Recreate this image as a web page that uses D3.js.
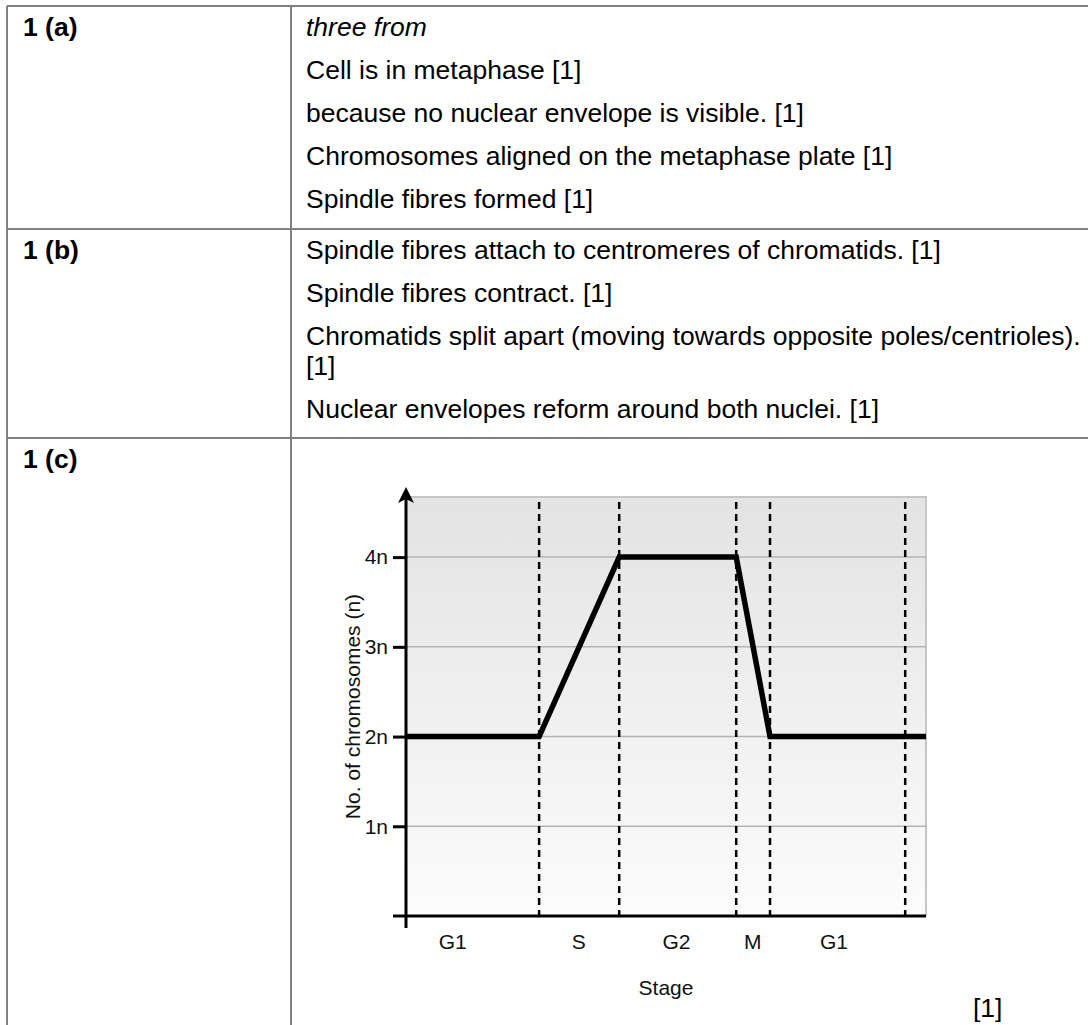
<!DOCTYPE html>
<html>
<head>
<meta charset="utf-8">
<script src="https://d3js.org/d3.v7.min.js"></script>
<style>
body { margin: 0; background: #fff; font-family: "Liberation Sans", Arial, sans-serif; }
.cell { font-size: 26.5px; fill: #000; }
.lab { font-size: 26.5px; font-weight: bold; fill: #000; }
.tick text { font-size: 21px; font-family: "Liberation Sans", Arial, sans-serif; }
.chart-text { font-size: 21px; fill: #111; }
</style>
</head>
<body>
<div id="page"></div>
<script>
// table content
var rowLabels = ["1 (a)", "1 (b)", "1 (c)"];
var rowA = ["three from", "Cell is in metaphase [1]", "because no nuclear envelope is visible. [1]",
  "Chromosomes aligned on the metaphase plate [1]", "Spindle fibres formed [1]"];
var rowB = ["Spindle fibres attach to centromeres of chromatids. [1]", "Spindle fibres contract. [1]",
  ["Chromatids split apart (moving towards opposite poles/centrioles).", "[1]"],
  "Nuclear envelopes reform around both nuclei. [1]"];

// chart data
var stageBounds = [25.6, 41, 63.5, 70, 96];
var stages = ["G1", "S", "G2", "M", "G1"];
var stagePos = [9, 33.2, 52, 66.7, 82.3];
var linePoints = [[0, 2], [25.6, 2], [41, 4], [63.5, 4], [70, 2], [100, 2]];
var yTicks = [1, 2, 3, 4];

var W = 1088, H = 1025;
var svg = d3.select("#page").append("svg")
  .attr("width", W).attr("height", H);

/* table grid */
var border = "#808080";
var rowTops = [6, 229, 438];
var tbl = svg.append("g");
rowTops.forEach(function(y) {
  tbl.append("line").attr("x1", 7).attr("x2", W).attr("y1", y).attr("y2", y)
    .attr("stroke", border).attr("stroke-width", 2);
});
[7, 291].forEach(function(x) {
  tbl.append("line").attr("x1", x).attr("x2", x).attr("y1", 6).attr("y2", H)
    .attr("stroke", border).attr("stroke-width", 2);
});

var P = 43, L = 30, firstOff = 30;
rowLabels.forEach(function(t, i) {
  tbl.append("text").attr("class", "lab").attr("x", 23).attr("y", rowTops[i] + firstOff).text(t);
});
rowA.forEach(function(t, i) {
  tbl.append("text").attr("class", "cell").attr("x", 306).attr("y", rowTops[0] + firstOff + i * P)
    .style("font-style", i === 0 ? "italic" : "normal").text(t);
});
var yb = rowTops[1] + firstOff;
rowB.forEach(function(t) {
  var lines = Array.isArray(t) ? t : [t];
  lines.forEach(function(s, j) {
    tbl.append("text").attr("class", "cell").attr("x", 306).attr("y", yb + j * L).text(s);
  });
  yb += (lines.length - 1) * L + P;
});

/* chart */
var x0 = 406, x1 = 926, yTop = 497, yBot = 916;
var xScale = d3.scaleLinear().domain([0, 100]).range([x0, x1]);
var yScale = d3.scaleLinear().domain([0, 4.67]).range([yBot, yTop]);

var defs = svg.append("defs");
var grad = defs.append("linearGradient").attr("id", "bg").attr("x1", 0).attr("y1", 0).attr("x2", 0).attr("y2", 1);
grad.append("stop").attr("offset", "0%").attr("stop-color", "#e3e3e3");
grad.append("stop").attr("offset", "100%").attr("stop-color", "#fcfcfc");

var g = svg.append("g");
g.append("rect").attr("x", x0).attr("y", yTop).attr("width", x1 - x0).attr("height", yBot - yTop)
  .attr("fill", "url(#bg)");
g.append("path").attr("d", `M${x0},${yTop}H${x1}V${yBot}`)
  .attr("fill", "none").attr("stroke", "#c6c6c6").attr("stroke-width", 2);

g.selectAll(".grid").data(yTicks).enter().append("line")
  .attr("x1", x0).attr("x2", x1)
  .attr("y1", d => yScale(d)).attr("y2", d => yScale(d))
  .attr("stroke", "#b4b4b4").attr("stroke-width", 1.5);

g.selectAll(".bound").data(stageBounds).enter().append("line")
  .attr("x1", d => xScale(d)).attr("x2", d => xScale(d))
  .attr("y1", yTop + 5).attr("y2", yBot)
  .attr("stroke", "#000").attr("stroke-width", 2.5).attr("stroke-dasharray", "7,5");

var line = d3.line().x(d => xScale(d[0])).y(d => yScale(d[1]));
g.append("path").datum(linePoints).attr("d", line)
  .attr("fill", "none").attr("stroke", "#000").attr("stroke-width", 5.5)
  .attr("stroke-linejoin", "miter");

// axes
var yAxis = d3.axisLeft(yScale).tickValues(yTicks).tickSize(13).tickPadding(5)
  .tickFormat(d => d + "n");
var ya = g.append("g").attr("transform", `translate(${x0},0)`).call(yAxis);
ya.select(".domain").remove();
ya.selectAll(".tick line").attr("stroke-width", 3);
ya.selectAll(".tick text").attr("fill", "#111");

g.append("line").attr("x1", x0).attr("x2", x0).attr("y1", yBot + 12).attr("y2", yTop)
  .attr("stroke", "#000").attr("stroke-width", 3);
g.append("path").attr("d", `M${x0},487L${x0 + 8},503L${x0},499L${x0 - 8},503Z`).attr("fill", "#000");
g.append("line").attr("x1", x0 - 13).attr("x2", x1).attr("y1", yBot).attr("y2", yBot)
  .attr("stroke", "#000").attr("stroke-width", 3);

g.selectAll(".stage").data(stages).enter().append("text")
  .attr("class", "chart-text").attr("text-anchor", "middle")
  .attr("x", (d, i) => xScale(stagePos[i])).attr("y", yBot + 33).text(d => d);

g.append("text").attr("class", "chart-text").attr("text-anchor", "middle")
  .attr("x", (x0 + x1) / 2).attr("y", yBot + 79).text("Stage");

g.append("text").attr("class", "chart-text").attr("text-anchor", "middle")
  .attr("transform", `translate(360,${(yTop + yBot) / 2}) rotate(-90)`)
  .text("No. of chromosomes (n)");

svg.append("text").attr("class", "cell").attr("x", 973).attr("y", 1017).text("[1]");
</script>
</body>
</html>
